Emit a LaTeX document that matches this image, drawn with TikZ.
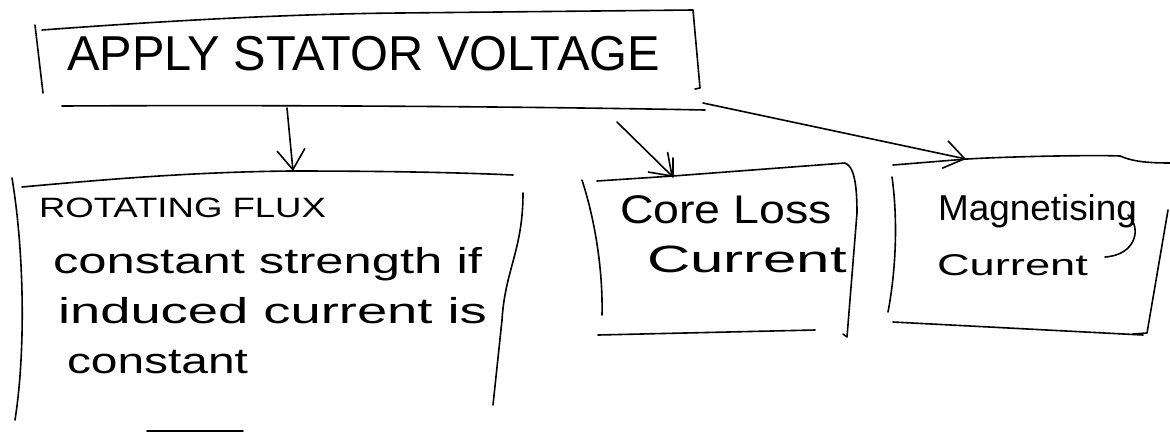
\documentclass[tikz,border=0pt]{standalone}
\usepackage{graphicx}
\usepackage{fontspec}
\setmainfont{Liberation Sans}
\usetikzlibrary{arrows.meta}
\newcommand\fitto[3]{\fontsize{#1}{#1}\selectfont\resizebox{#2pt}{\height}{#3}}
\begin{document}
\begin{tikzpicture}[x=1pt,y=-1pt,
  ink/.style={draw=black,line width=1.6pt,line cap=round,line join=round},
  txt/.style={anchor=base west,inner sep=0pt,outer sep=0pt},
  conn/.style={ink,-{Straight Barb[length=20pt,width=28pt,line width=1.6pt]}}]
\useasboundingbox (0,0) rectangle (1170,432);

% ---- texts ----
\node[txt] (title) at (67,70) {\fitto{49}{593}{APPLY STATOR VOLTAGE}};
\node[txt] (flux1) at (39,217) {\fitto{28}{287}{ROTATING FLUX}};
\node[txt] (flux2) at (53,273) {\fitto{36}{429}{constant strength if}};
\node[txt] (flux3) at (58,323) {\fitto{36}{429}{induced current is}};
\node[txt] (flux4) at (67,373) {\fitto{36}{181}{constant}};
\node[txt] (core1) at (620,223) {\fitto{40}{212}{Core Loss}};
\node[txt] (core2) at (647,272) {\fitto{38}{200}{Current}};
\node[txt] (mag1) at (938,220) {\fitto{36}{199}{Magnetising}};
\node[txt] (mag2) at (937,275) {\fitto{30}{151}{Current}};

% ---- top box frame ----
\draw[ink] (35,25) -- (43,93);
\draw[ink] (42,30) .. controls (150,22) and (280,14) .. (400,13) -- (693,10) -- (700,88) -- (695,89);
\draw[ink] (62,106) .. controls (250,105) and (500,106) .. (705,110);

% ---- rotating flux box ----
\draw[ink] (12,178) .. controls (24,250) and (26,350) .. (15,420);
\draw[ink] (22,187) .. controls (120,178) and (200,172) .. (290,171) .. controls (400,171) and (470,173) .. (513,175);
\draw[ink] (523,193) .. controls (523,250) and (505,270) .. (502,320) -- (493,405);
\draw[ink] (147,431) -- (243,431);

% ---- core loss box ----
\draw[ink] (582,180) .. controls (595,220) and (603,270) .. (602,315);
\draw[ink] (597,181) -- (673,176) -- (845,163) .. controls (853,166) and (857,180) .. (857,213) -- (847,337) -- (843,334);
\draw[ink] (598,335) -- (815,330);

% ---- magnetising box ----
\draw[ink] (893,165) -- (967,159) .. controls (1020,156) and (1100,155) .. (1120,156) .. controls (1130,160) and (1140,163) .. (1170,163);
\draw[ink] (892,177) .. controls (898,220) and (896,270) .. (888,312);
\draw[ink] (1168,210) -- (1147,333) -- (1133,334);
\draw[ink] (893,322) -- (1143,335);
\draw[ink] (1128,215) .. controls (1142,228) and (1136,255) .. (1105,257);

% ---- connectors ----
\coordinate (a1s) at (287,108);
\coordinate (a1e) at (293,171);
\coordinate (a2s) at (617,122);
\coordinate (a2e) at (673,177);
\coordinate (a3s) at (703,103);
\coordinate (a3e) at (966,159);
\draw[conn] (a1s) -- (a1e);
\draw[conn] (a2s) -- (a2e);
\draw[ink] (673,158) -- (a2e);
\draw[conn] (a3s) -- (a3e);
\end{tikzpicture}
\end{document}
